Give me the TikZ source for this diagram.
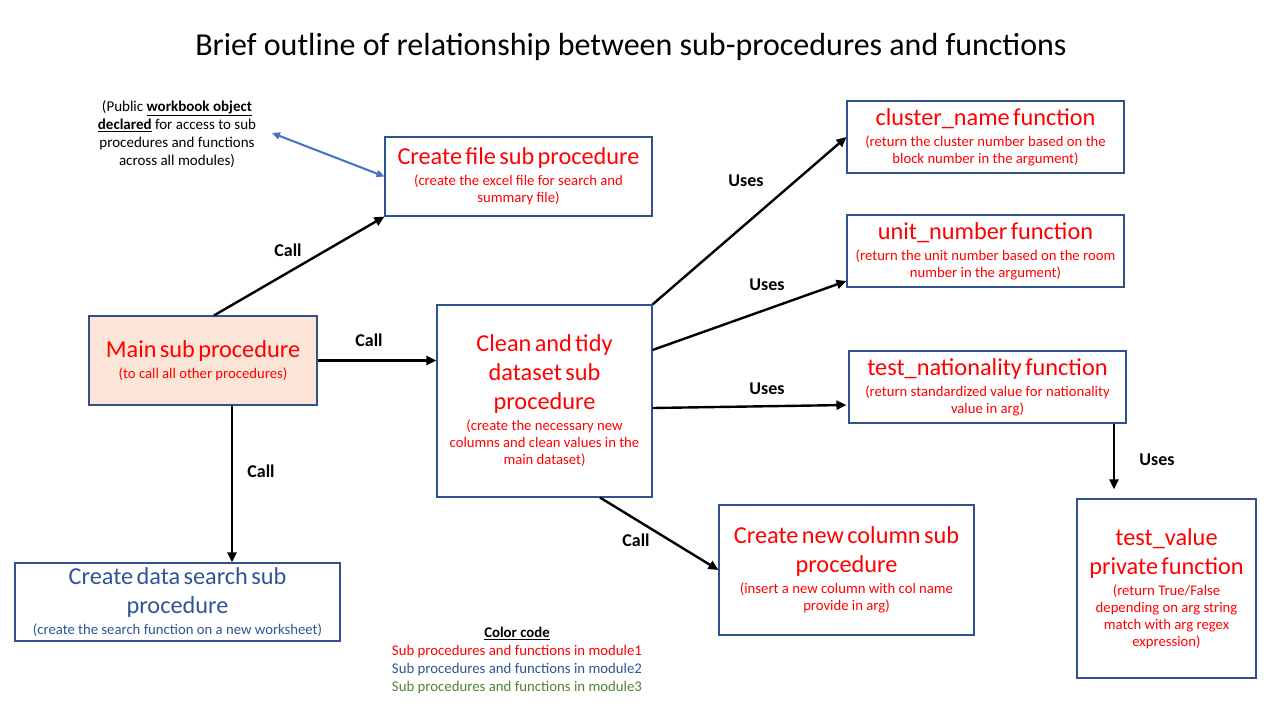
\documentclass[tikz,border=0pt]{standalone}
\usepackage{fontspec}
\setmainfont{Carlito}
\usetikzlibrary{arrows.meta,calc}
\definecolor{bord}{HTML}{2F528F}
\definecolor{mred}{HTML}{FF0000}
\definecolor{mblue}{HTML}{2F5597}
\definecolor{mgreen}{HTML}{548235}
\definecolor{peach}{HTML}{FBE5D6}
\definecolor{lblue}{HTML}{4472C4}
\newcommand\boxtitle{\fontsize{24.3}{29}\selectfont}
\newcommand\boxsub{\fontsize{14.7}{17}\selectfont}
\newcommand\boxtext[2]{{\boxtitle #1\par}\vskip4pt{\boxsub #2\par}}
\tikzset{
 box/.style={draw=bord, line width=1.1pt, rectangle, inner sep=0pt, align=center, text=mred},
 conn/.style={line width=2.4pt, -{Triangle[length=10pt,width=9pt]}},
 lbl/.style={font=\fontsize{18}{21}\selectfont\bfseries, inner sep=0pt},
}
\begin{document}
\begin{tikzpicture}[x=1pt,y=-1pt]
\useasboundingbox (0,0) rectangle (1280,720);
\fill[white] (0,0) rectangle (1280,720);

\node[font=\fontsize{32}{36}\selectfont, inner sep=0pt] (title) at (631,47) {Brief outline of relationship between sub-procedures and functions};

\node[align=center, font=\fontsize{15}{18}\selectfont, inner sep=0pt] (note) at (177,134)
 {(Public \textbf{\underline{workbook object}}\\\textbf{\underline{declared}} for access to sub\\procedures and functions\\across all modules)};

\node[box, minimum width=267, minimum height=79, text width=263] (file) at (518.5,176.5)
 {\boxtext{Create file sub procedure}{(create the excel file for search and\\summary file)}};
\node[box, minimum width=277, minimum height=72, text width=273] (cluster) at (985.5,137)
 {\boxtext{cluster\_name function}{(return the cluster number based on the\\block number in the argument)}};
\node[box, minimum width=277, minimum height=72, text width=273] (unit) at (985.5,251)
 {\boxtext{unit\_number function}{(return the unit number based on the room\\number in the argument)}};
\node[box, minimum width=277, minimum height=72, text width=273] (nat) at (987.5,387)
 {\boxtext{test\_nationality function}{(return standardized value for nationality\\value in arg)}};
\node[box, minimum width=179, minimum height=179, text width=175] (tv) at (1166.5,588.5)
 {\boxtext{test\_value\\private function}{(return True/False\\depending on arg string\\match with arg regex\\expression)}};
\node[box, fill=peach, minimum width=228, minimum height=89, text width=224] (main) at (203,360.5)
 {\boxtext{Main sub procedure}{(to call all other procedures)}};
\node[box, minimum width=215, minimum height=192, text width=211] (clean) at (544.5,401)
 {\boxtext{Clean and tidy\\dataset sub\\procedure}{(create the necessary new\\columns and clean values in the\\main dataset)}};
\node[box, minimum width=255, minimum height=130, text width=251] (newcol) at (846.5,570)
 {\boxtext{Create new column sub\\procedure}{(insert a new column with col name\\provide in arg)}};
\node[box, text=mblue, minimum width=325, minimum height=78, text width=321] (search) at (177.5,602)
 {\boxtext{Create data search sub\\procedure}{(create the search function on a new worksheet)}};

\node[align=center, font=\fontsize{14.8}{17.7}\selectfont, inner sep=0pt] (code) at (517,660.5)
 {\textbf{\underline{Color code}}\\\textcolor{mred}{Sub procedures and functions in module1}\\\textcolor{mblue}{Sub procedures and functions in module2}\\\textcolor{mgreen}{Sub procedures and functions in module3}};

\coordinate (noteend) at (272,133);
\draw[line width=2pt, lblue, {Triangle[length=8pt,width=7pt]}-{Triangle[length=8pt,width=7pt]}] (noteend) -- (file.west);

\draw[conn] ($(main.north)+(11,0)$) -- (file.south west);
\draw[conn] (main.east) -- (main.east -| clean.west);
\draw[conn] ($(main.south)+(29,0)$) coordinate (ms) -- (ms |- search.north);
\draw[conn] (clean.north east) -- (cluster.west);
\draw[conn] ($(clean.east)+(0,-51)$) -- ($(unit.west)+(0,30)$);
\draw[conn] ($(clean.east)+(0,7)$) -- ($(nat.west)+(-2,18)$);
\draw[conn] ($(clean.south)+(55.5,0)$) -- (newcol.west);
\draw[conn, shorten >=9pt] ($(nat.south)+(126.5,0)$) coordinate (ns) -- (ns |- tv.north);

\node[lbl] (l1) at (288,250) {Call};
\node[lbl] (l2) at (369,340) {Call};
\node[lbl] (l3) at (261,471) {Call};
\node[lbl] (l4) at (636,540) {Call};
\node[lbl] (u1) at (746,181) {Uses};
\node[lbl] (u2) at (767,285) {Uses};
\node[lbl] (u3) at (767,389) {Uses};
\node[lbl] (u4) at (1157,460) {Uses};
\end{tikzpicture}
\end{document}
